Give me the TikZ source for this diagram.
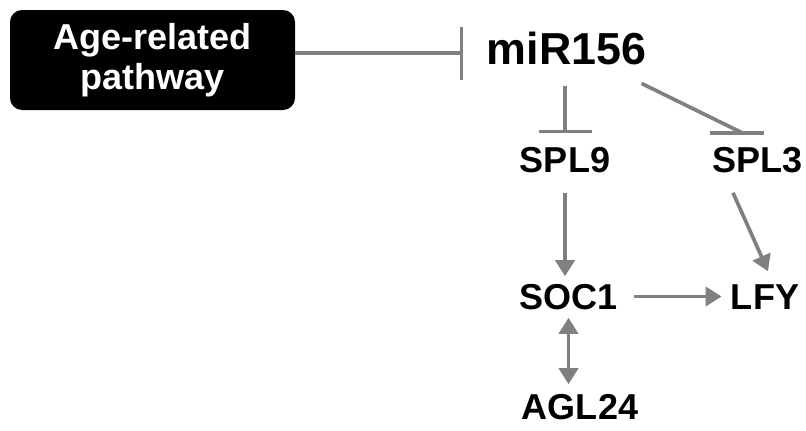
\documentclass[tikz,border=0pt]{standalone}
\usepackage{fontspec}
\setmainfont{Liberation Sans}
\usetikzlibrary{positioning,calc,arrows.meta}
\definecolor{pathgray}{RGB}{128,128,128}

\begin{document}
\begin{tikzpicture}[
  >={Triangle[length=0.32cm,width=0.38cm]},
  gene/.style={font=\fontsize{20.5}{24}\selectfont\bfseries,inner sep=0pt,
               text height=14.7pt,text depth=0pt},
  link/.style={draw=pathgray,line width=2.1pt},
  act/.style={link,->},
  inhib/.style={link,-{Bar[width=1.06cm]}}
]
  \useasboundingbox (0,0) rectangle (16.12,-8.6);

  \node[fill=black,rounded corners=0.24cm,minimum width=5.7cm,minimum height=2cm,
        text=white,align=center,font=\fontsize{20.5}{22.5}\selectfont\bfseries]
        (age) at (3.05,-1.2) {Age-related\\pathway};
  \node[font=\fontsize{25.5}{30}\selectfont\bfseries,inner sep=0pt,
        text height=18.4pt,text depth=5.6pt] (mir) at (11.33,-1.06) {miR156};

  \node[gene] (spl9) at (11.3,-3.19) {SPL9};
  \node[gene] (spl3) at (15.15,-3.19) {SPL3};
  \node[gene] (soc1) at (11.37,-5.93) {SOC1};
  \node[gene] (lfy) at (15.3,-5.93) {LFY};
  \node[gene] (agl24) at (11.6,-8.13) {AGL24};

  \draw[inhib,shorten >=0.46cm] (age.east |- mir.west) -- (mir.west);
  \draw[inhib,shorten <=0.24cm,shorten >=0.26cm] (spl9.north |- mir.south) -- (spl9.north);

  \coordinate (spl3bar) at ($(spl3.north)+(-0.41,0.26)$);
  \draw[link] ($(mir.south east)+(-0.1,-0.18)$) -- ($(spl3bar)+(0.12,0)$);
  \draw[link] ($(spl3bar)+(-0.54,0)$) -- ($(spl3bar)+(0.54,0)$);

  \draw[act,shorten <=0.4cm,shorten >=0.14cm] (spl9.south) -- (spl9.south |- soc1.north);
  \draw[act] ($(spl3.south)+(-0.49,-0.4)$) -- ($(lfy.north)+(0.06,0.24)$);
  \draw[act,shorten <=0.33cm,shorten >=0.18cm] (soc1.east) -- (soc1.east -| lfy.west);
  \draw[link,<->,shorten <=0.16cm,shorten >=0.18cm] (soc1.south) -- (soc1.south |- agl24.north);
\end{tikzpicture}
\end{document}
